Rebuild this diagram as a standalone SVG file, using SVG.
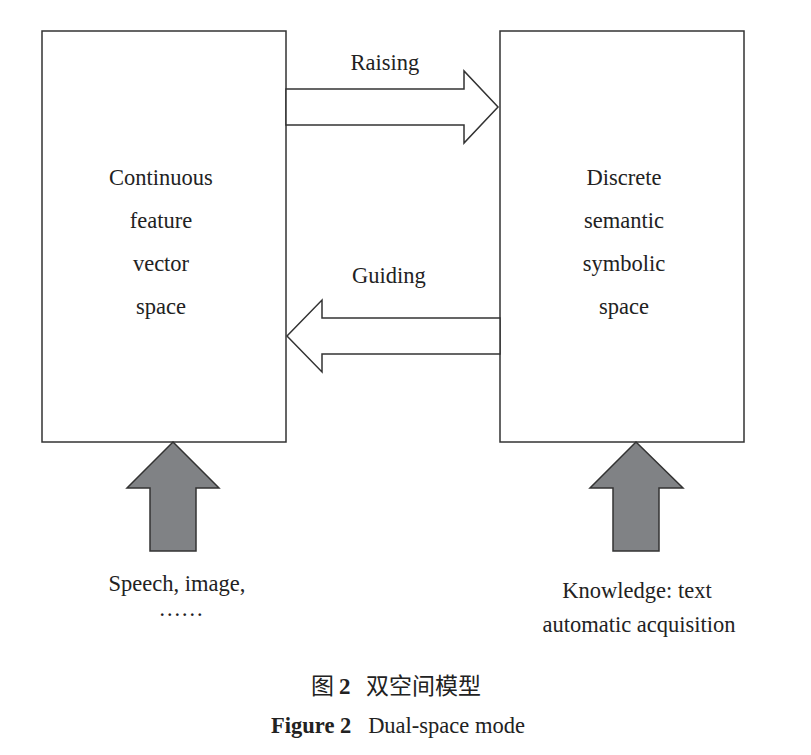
<svg xmlns="http://www.w3.org/2000/svg" width="811" height="755" viewBox="0 0 811 755">
<style>
.b{fill:#fff;stroke:#333;stroke-width:1.5}
.a{fill:#fff;stroke:#333;stroke-width:1.5}
.g{fill:#808285;stroke:#333;stroke-width:1.5}
text{font-family:"Liberation Serif",serif;font-size:22.5px;fill:#222;text-anchor:middle}
.c{font-family:"Noto Sans CJK SC",sans-serif;font-size:23px}
</style>
<rect width="811" height="755" fill="#fff"/>
<g id="left"><rect class="b" x="42" y="31" width="244" height="411"/>
<text x="161" y="185">Continuous</text><text x="161" y="228">feature</text><text x="161" y="271">vector</text><text x="161" y="314">space</text></g>
<g id="right"><rect class="b" x="500" y="31" width="244" height="411"/>
<text x="624" y="185">Discrete</text><text x="624" y="228">semantic</text><text x="624" y="271">symbolic</text><text x="624" y="314">space</text></g>
<g id="connectors">
<polygon class="a" points="286,89 464,89 464,71 498,107 464,143 464,125 286,125"/>
<text x="385" y="70">Raising</text>
<polygon class="a" points="500,318 322,318 322,300 287,336 322,372 322,354 500,354"/>
<text x="389" y="283">Guiding</text>
<polygon class="g" points="173,442 219,488 196,488 196,551 150,551 150,488 127,488"/>
<polygon class="g" points="636,442 683,488 659,488 659,551 613,551 613,488 590,488"/>
</g>
<g id="src1"><text x="177" y="591">Speech, image,</text><text x="181" y="616">……</text></g>
<g id="src2"><text x="637" y="598">Knowledge: text</text><text x="639" y="632">automatic acquisition</text></g>
<g id="caption"><text class="c" x="396" y="694" xml:space="preserve">图 <tspan font-family="Liberation Serif" font-weight="bold">2</tspan>   双空间模型</text>
<text x="398" y="733" xml:space="preserve"><tspan font-weight="bold">Figure 2</tspan>   Dual-space mode</text></g>
</svg>
